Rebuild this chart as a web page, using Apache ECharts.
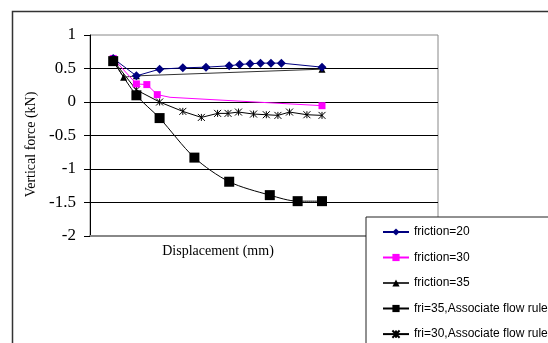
<!DOCTYPE html>
<html>
<head>
<meta charset="utf-8">
<script src="https://cdn.jsdelivr.net/npm/echarts@6/dist/echarts.min.js"></script>
<style>html,body{margin:0;padding:0;background:#fff;}#c{width:548px;height:343px;}</style>
</head>
<body>
<div id="c"></div>
<script>
// Displacement (mm) and vertical force (kN)
var seriesNames = ['friction=20', 'friction=30', 'friction=35', 'fri=35,Associate flow rule', 'fri=30,Associate flow rule'];
var yTicks = [-2, -1.5, -1, -0.5, 0, 0.5, 1];

var f20X = [1, 2, 3, 4, 5, 6, 6.45, 6.9, 7.35, 7.8, 8.25, 10];
var f20Y = [0.65, 0.39, 0.49, 0.51, 0.52, 0.54, 0.56, 0.57, 0.58, 0.58, 0.58, 0.52];

var f30X = [1, 2, 2.45, 2.9, 3.45, 10];
var f30Y = [0.65, 0.27, 0.26, 0.11, 0.07, -0.055];

var f35X = [1, 1.45, 2, 10];
var f35Y = [0.62, 0.37, 0.39, 0.49];

var a35X = [1, 2, 3, 4.5, 6, 7.75, 8.95, 10];
var a35Y = [0.61, 0.1, -0.24, -0.83, -1.19, -1.39, -1.48, -1.48];

var a30X = [1, 2, 3, 4, 4.8, 5.5, 5.95, 6.4, 7.05, 7.6, 8.1, 8.6, 9.35, 10];
var a30Y = [0.62, 0.18, 0.0, -0.14, -0.23, -0.17, -0.17, -0.15, -0.18, -0.19, -0.2, -0.15, -0.19, -0.2];

function pairs(xs, ys) { return xs.map(function (x, i) { return [x, ys[i]]; }); }

var starPath = 'path://M0,0L10,10M10,0L0,10M5,0L5,10';

var chart = echarts.init(document.getElementById('c'), null, { renderer: 'canvas' });
chart.setOption({
  animation: false,
  backgroundColor: '#fff',
  graphic: [{
    type: 'rect', left: 10, top: 9, silent: true,
    shape: { x: 0, y: 0, width: 700, height: 500 },
    style: { fill: 'none', stroke: '#333', lineWidth: 1.5 }
  }],
  grid: { left: 90, top: 35, width: 348, height: 201, show: true, borderColor: '#888', borderWidth: 1, backgroundColor: 'transparent' },
  legend: {
    orient: 'vertical', left: 366, top: 217, height: 140,
    padding: [9, 20, 6, 16],
    itemGap: 13.5, itemWidth: 26, itemHeight: 9,
    backgroundColor: '#fff', borderColor: '#222', borderWidth: 1, borderRadius: 0,
    textStyle: { fontFamily: 'Liberation Sans, Arial, sans-serif', fontSize: 12, color: '#000' },
    data: seriesNames
  },
  xAxis: {
    type: 'value', min: 0, max: 15,
    name: 'Displacement (mm)', nameLocation: 'middle', nameGap: 8,
    nameTextStyle: { fontFamily: 'Liberation Serif, Times New Roman, serif', fontSize: 14, color: '#000', padding: [0, 92, 0, 0] },
    axisLine: { show: true, onZero: false, lineStyle: { color: '#888', width: 2 } },
    axisTick: { show: false }, axisLabel: { show: false }, splitLine: { show: false }
  },
  yAxis: {
    type: 'value', min: yTicks[0], max: yTicks[yTicks.length - 1], interval: 0.5,
    name: 'Vertical force (kN)', nameLocation: 'middle', nameGap: 35,
    nameTextStyle: { fontFamily: 'Liberation Serif, Times New Roman, serif', fontSize: 14, color: '#000', padding: [0, 18, 0, 0] },
    axisLine: { show: true, lineStyle: { color: '#000', width: 1 } },
    axisTick: { show: true, length: 6, lineStyle: { color: '#000' } },
    axisLabel: { margin: 14, fontFamily: 'Liberation Serif, Times New Roman, serif', fontSize: 17, color: '#000',
      formatter: function (v) { return String(v); } },
    splitLine: { show: true, showMinLine: false, showMaxLine: false, lineStyle: { color: '#000', width: 1 } }
  },
  series: [
    { name: seriesNames[0], type: 'line', data: pairs(f20X, f20Y), symbol: 'diamond', symbolSize: 9,
      itemStyle: { color: '#000080' }, lineStyle: { color: '#000080', width: 1 }, z: 5 },
    { name: seriesNames[1], type: 'line', data: pairs(f30X, f30Y).map(function (p, i) {
        return i === 4 ? { value: p, symbol: 'none' } : p; }), symbol: 'rect', symbolSize: 7,
      itemStyle: { color: '#ff00ff' }, lineStyle: { color: '#ff00ff', width: 1 }, z: 4 },
    { name: seriesNames[2], type: 'line', data: pairs(f35X, f35Y), symbol: 'triangle', symbolSize: 7,
      itemStyle: { color: '#000' }, lineStyle: { color: '#333', width: 1 }, z: 3 },
    { name: seriesNames[3], type: 'line', data: pairs(a35X, a35Y), symbol: 'rect', symbolSize: 10, smooth: 0.3,
      itemStyle: { color: '#000' }, lineStyle: { color: '#000', width: 1 }, z: 6 },
    { name: seriesNames[4], type: 'line', data: pairs(a30X, a30Y), symbol: starPath, symbolSize: 7,
      itemStyle: { color: 'none', borderColor: '#000', borderWidth: 1 }, lineStyle: { color: '#000', width: 1 }, z: 2 }
  ]
});
</script>
</body>
</html>
